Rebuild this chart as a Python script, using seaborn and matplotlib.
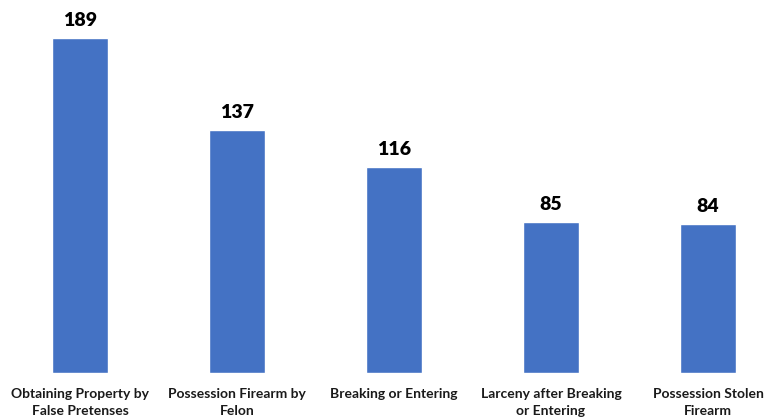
import matplotlib
matplotlib.use("Agg")
import matplotlib.pyplot as plt
import seaborn as sns
import pandas as pd

categories = ["Obtaining Property by\nFalse Pretenses", "Possession Firearm by\nFelon",
              "Breaking or Entering", "Larceny after Breaking\nor Entering",
              "Possession Stolen\nFirearm"]
values = [189, 137, 116, 85, 84]

sns.set_theme(style="white")
plt.rcParams['font.family'] = ['Lato', 'DejaVu Sans']

df = pd.DataFrame({"cat": categories, "val": values})
fig = plt.figure(figsize=(7.8, 4.19), dpi=100)
ax = fig.add_axes([1.5 / 780, 0.11, 785 / 780, 0.846])
sns.barplot(data=df, x="cat", y="val", color="#4472C4", saturation=1, width=0.36, ax=ax)
ax.set_ylim(0, 200)
ax.set_xlim(-0.5, 4.5)
for i, v in enumerate(values):
    ax.text(i, v + 5, str(v), ha="center", va="bottom", fontsize=14, fontweight="heavy", color="black")
ax.set_xlabel("")
ax.set_ylabel("")
ax.set_yticks([])
ax.tick_params(axis="x", length=0, pad=11)
for lbl in ax.get_xticklabels():
    lbl.set_fontsize(10)
    lbl.set_fontweight("bold")
    lbl.set_color("#1a1a1a")
    lbl.set_linespacing(1.45)
for s in ax.spines.values():
    s.set_visible(False)
fig.savefig("out.png", dpi=100)
